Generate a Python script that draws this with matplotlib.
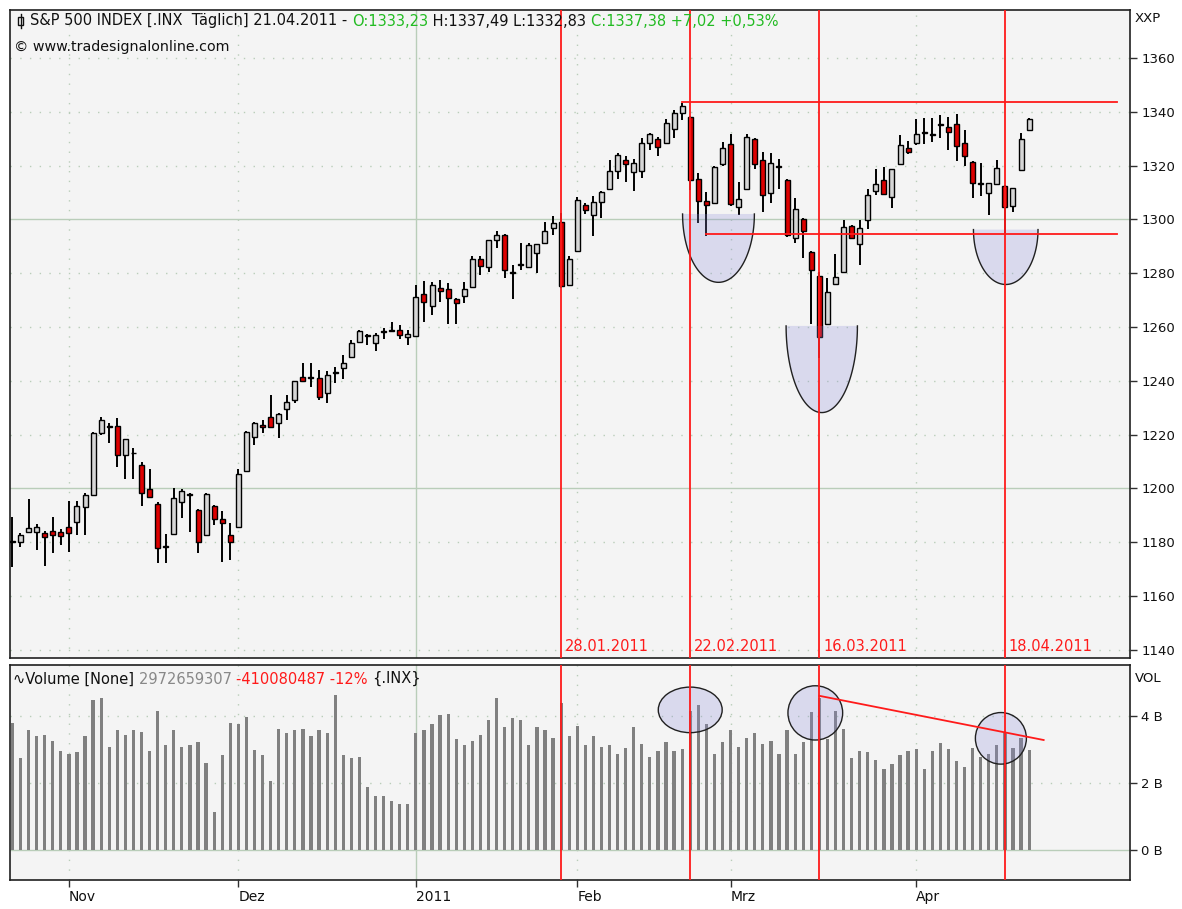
import numpy as np
import pandas as pd
import matplotlib
matplotlib.use("Agg")
import matplotlib.pyplot as plt
from matplotlib.patches import Ellipse, Polygon, Rectangle

plt.rcParams['font.family'] = ['DejaVu Sans']

# ---------------- data ----------------
holidays = ['2010-11-25', '2010-12-24', '2011-01-17', '2011-02-21']
dates = pd.bdate_range('2010-10-21', '2011-04-21', freq='C', holidays=holidays)

opens = [1180.0, 1180.1, 1184.0, 1184.0, 1183.6, 1184.3, 1183.7, 1185.5, 1187.4, 1193.0,
         1197.5, 1220.5, 1223.3, 1223.2, 1212.5, 1213.0, 1208.7, 1199.8, 1194.3, 1178.1,
         1183.0, 1195.1, 1197.9, 1192.0, 1182.7, 1193.5, 1188.8, 1182.6, 1185.8, 1206.5,
         1219.3, 1223.6, 1226.7, 1224.3, 1229.4, 1232.9, 1241.6, 1241.4, 1241.1, 1235.4,
         1243.2, 1244.7, 1248.8, 1254.3, 1256.9, 1254.0, 1258.4, 1258.6, 1258.9, 1256.2,
         1256.7, 1272.3, 1267.8, 1274.6, 1274.1, 1270.3, 1271.5, 1275.0, 1285.2, 1282.2,
         1292.4, 1294.2, 1280.3, 1283.3, 1282.2, 1287.4, 1291.4, 1296.9, 1299.2, 1275.6,
         1288.4, 1305.4, 1301.8, 1306.4, 1311.2, 1318.1, 1322.1, 1317.6, 1318.1, 1328.3,
         1329.8, 1328.5, 1333.6, 1339.7, 1338.2, 1314.9, 1307.0, 1306.2, 1320.6, 1328.0,
         1304.5, 1311.2, 1329.8, 1322.1, 1309.7, 1319.6, 1314.7, 1293.0, 1300.2, 1287.8,
         1279.0, 1261.1, 1276.0, 1280.6, 1297.6, 1290.9, 1299.6, 1310.6, 1314.8, 1308.3,
         1320.7, 1326.4, 1328.2, 1332.4, 1331.9, 1335.5, 1334.4, 1335.4, 1328.2, 1321.4,
         1313.2, 1309.8, 1313.3, 1312.4, 1304.8, 1318.5, 1333.23]
highs = [1189.3, 1183.4, 1196.1, 1186.8, 1184.2, 1189.5, 1184.9, 1195.5, 1195.5, 1198.2,
         1221.0, 1226.7, 1224.3, 1226.1, 1218.5, 1214.9, 1209.9, 1207.1, 1194.8, 1183.1,
         1200.1, 1199.7, 1198.5, 1192.3, 1198.2, 1194.0, 1191.7, 1187.1, 1207.1, 1221.5,
         1224.8, 1225.5, 1234.8, 1228.0, 1234.8, 1240.1, 1246.5, 1246.5, 1244.1, 1243.6,
         1245.1, 1249.6, 1255.0, 1258.9, 1257.5, 1257.7, 1259.5, 1262.0, 1260.7, 1258.9,
         1275.6, 1277.1, 1276.8, 1277.4, 1276.2, 1270.7, 1276.8, 1286.3, 1286.3, 1292.4,
         1295.5, 1294.4, 1283.0, 1291.1, 1291.4, 1290.9, 1299.2, 1301.3, 1302.3, 1286.2,
         1308.2, 1306.2, 1308.5, 1310.6, 1322.1, 1324.5, 1323.6, 1322.6, 1330.1, 1332.2,
         1330.7, 1337.2, 1340.7, 1343.2, 1338.5, 1317.1, 1310.3, 1319.9, 1328.9, 1331.7,
         1313.7, 1331.7, 1330.2, 1325.2, 1324.5, 1322.6, 1314.9, 1307.8, 1300.5, 1288.2,
         1280.5, 1278.1, 1287.0, 1299.8, 1298.0, 1299.6, 1311.1, 1318.9, 1319.3, 1318.6,
         1331.3, 1329.2, 1337.2, 1337.5, 1337.5, 1338.8, 1338.1, 1339.2, 1333.2, 1321.6,
         1321.0, 1313.5, 1322.2, 1312.6, 1311.8, 1332.2, 1337.49]
lows = [1170.7, 1178.4, 1184.0, 1177.2, 1171.2, 1176.2, 1179.0, 1176.5, 1182.7, 1182.7,
        1197.5, 1219.8, 1217.0, 1207.9, 1203.4, 1203.4, 1193.5, 1196.7, 1172.4, 1172.4,
        1183.0, 1189.2, 1184.0, 1176.2, 1182.7, 1186.4, 1172.8, 1173.4, 1185.8, 1206.5,
        1216.2, 1220.6, 1222.4, 1218.7, 1225.5, 1231.9, 1240.0, 1237.6, 1232.9, 1231.9,
        1239.3, 1240.6, 1248.8, 1254.3, 1253.3, 1250.9, 1255.4, 1258.4, 1255.4, 1253.2,
        1256.7, 1262.0, 1264.4, 1269.4, 1261.1, 1261.3, 1268.8, 1275.0, 1279.4, 1280.6,
        1289.3, 1278.1, 1270.4, 1281.2, 1282.0, 1280.0, 1291.4, 1294.3, 1274.4, 1275.6,
        1288.4, 1302.0, 1293.8, 1300.5, 1311.2, 1314.9, 1314.0, 1310.7, 1315.3, 1325.8,
        1323.6, 1328.5, 1330.1, 1337.0, 1310.9, 1298.8, 1293.8, 1306.2, 1319.8, 1305.0,
        1301.7, 1311.2, 1318.6, 1302.9, 1306.2, 1311.2, 1293.6, 1291.1, 1285.6, 1261.0,
        1248.4, 1261.1, 1275.5, 1280.6, 1292.6, 1283.2, 1296.5, 1308.9, 1309.6, 1304.4,
        1320.7, 1324.2, 1327.6, 1328.0, 1328.8, 1330.1, 1325.7, 1321.8, 1319.8, 1308.1,
        1308.6, 1301.5, 1313.3, 1294.7, 1302.7, 1318.5, 1332.83]
closes = [1180.0, 1182.6, 1185.3, 1185.8, 1181.9, 1182.8, 1182.3, 1183.6, 1193.3, 1197.6,
          1220.5, 1225.5, 1223.0, 1212.5, 1218.3, 1213.3, 1198.5, 1196.7, 1178.0, 1178.4,
          1196.6, 1199.2, 1197.7, 1180.0, 1197.8, 1188.6, 1187.3, 1180.1, 1205.3, 1221.1,
          1224.5, 1223.0, 1223.0, 1227.7, 1232.3, 1240.1, 1240.0, 1241.0, 1234.1, 1242.3,
          1243.0, 1246.8, 1254.0, 1258.5, 1256.6, 1257.1, 1258.2, 1258.8, 1257.1, 1257.4,
          1271.3, 1269.4, 1275.6, 1273.4, 1270.7, 1268.8, 1274.1, 1285.3, 1282.8, 1292.4,
          1294.2, 1281.2, 1280.0, 1283.0, 1290.4, 1290.9, 1295.8, 1298.6, 1275.3, 1285.3,
          1307.2, 1303.5, 1306.4, 1310.3, 1318.1, 1323.9, 1320.6, 1321.1, 1328.3, 1331.7,
          1327.0, 1335.7, 1339.7, 1342.2, 1314.7, 1307.0, 1305.4, 1319.4, 1326.4, 1305.7,
          1307.5, 1330.5, 1320.6, 1309.1, 1320.9, 1319.4, 1294.2, 1303.8, 1295.8, 1281.2,
          1256.2, 1272.9, 1278.5, 1297.3, 1293.0, 1296.9, 1309.2, 1313.1, 1309.6, 1318.6,
          1327.6, 1324.9, 1331.7, 1332.0, 1331.5, 1335.1, 1332.6, 1327.3, 1323.6, 1313.5,
          1313.5, 1313.5, 1319.2, 1304.6, 1311.8, 1329.7, 1337.38]
volumes_b = [3.80, 2.73, 3.57, 3.39, 3.44, 3.26, 2.95, 2.86, 2.91, 3.39,
             4.47, 4.52, 3.07, 3.57, 3.44, 3.57, 3.53, 2.95, 4.16, 3.12,
             3.57, 3.08, 3.12, 3.21, 2.59, 1.14, 2.82, 3.80, 3.75, 3.97,
             2.99, 2.82, 2.05, 3.62, 3.48, 3.57, 3.62, 3.39, 3.57, 3.48,
             4.61, 2.82, 2.73, 2.77, 1.87, 1.60, 1.60, 1.47, 1.38, 1.38,
             3.48, 3.57, 3.75, 4.02, 4.07, 3.30, 3.12, 3.26, 3.44, 3.89,
             4.52, 3.66, 3.93, 3.89, 3.12, 3.66, 3.57, 3.35, 4.38, 3.39,
             3.71, 3.12, 3.39, 3.08, 3.12, 2.85, 3.03, 3.66, 3.17, 2.77,
             2.95, 3.21, 2.95, 3.00, 4.16, 4.34, 3.75, 2.86, 3.21, 3.57,
             3.08, 3.35, 3.48, 3.17, 3.26, 2.85, 3.57, 2.85, 3.21, 4.11,
             4.52, 3.30, 4.16, 3.62, 2.73, 2.95, 2.91, 2.68, 2.42, 2.55,
             2.82, 2.95, 3.00, 2.42, 2.95, 3.18, 3.00, 2.64, 2.46, 3.03,
             2.77, 2.85, 3.12, 3.48, 3.03, 3.35, 2.97]

marker_dates = ['2011-01-28', '2011-02-22', '2011-03-16', '2011-04-18']
marker_labels = ['28.01.2011', '22.02.2011', '16.03.2011', '18.04.2011']
resistance_level = 1343.5
resistance_from = '2011-02-18'
neckline_level = 1294.5
neckline_from = '2011-02-24'
month_ticks = ['2010-11-01', '2010-12-01', '2011-01-03', '2011-02-01', '2011-03-01', '2011-04-01']
month_labels = ['Nov', 'Dez', '2011', 'Feb', 'Mrz', 'Apr']
price_ticks = [1140, 1160, 1180, 1200, 1220, 1240, 1260, 1280, 1300, 1320, 1340, 1360]
vol_ticks = [0, 2, 4]
vol_tick_labels = ['0 B', '2 B', '4 B']

# ---------------- setup ----------------
o = np.array(opens); h = np.array(highs); l = np.array(lows); c = np.array(closes)
v = np.array(volumes_b)
n = len(dates)
x = np.arange(n)
idx = {d.strftime('%Y-%m-%d'): i for i, d in enumerate(dates)}

BG = '#f4f4f4'
GRID = '#b9cdb9'
RED = '#ff1a1a'
FILL = (0.55, 0.55, 0.85, 0.25)

W, H = 1182, 909
fig = plt.figure(figsize=(W / 100, H / 100), dpi=100)
fig.patch.set_facecolor('white')
ax = fig.add_axes([10 / W, 251 / H, 1120 / W, 648 / H])
axv = fig.add_axes([10 / W, 29 / H, 1120 / W, 215 / H])

xlim = (-0.3, 138.5)
for a in (ax, axv):
    a.set_facecolor(BG)
    a.set_xlim(*xlim)
    for s in a.spines.values():
        s.set_color('#202020')
        s.set_linewidth(1.2)

ax.set_ylim(1137.0, 1377.8)
axv.set_ylim(-0.9, 5.52)

# grid
tick_idx = [idx[d] for d in month_ticks]
for a in (ax, axv):
    for ti, lab in zip(tick_idx, month_labels):
        if lab == '2011':
            a.axvline(ti, color=GRID, lw=1.0, zorder=1)
        else:
            a.axvline(ti, color=GRID, lw=1.0, ls=(0, (1, 6)), zorder=1)
for p in price_ticks:
    if p % 100 == 0:
        ax.axhline(p, color=GRID, lw=1.0, zorder=1)
    else:
        ax.axhline(p, color=GRID, lw=1.0, ls=(0, (1, 6)), zorder=1)
for vt in vol_ticks:
    if vt == 0:
        axv.axhline(vt, color=GRID, lw=1.0, zorder=1)
    else:
        axv.axhline(vt, color=GRID, lw=1.0, ls=(0, (1, 6)), zorder=1)

# ---------------- candles ----------------
up = c >= o
bottoms = np.minimum(o, c)
heights = np.maximum(np.abs(c - o), 0.35)
colors = np.where(up, '#d6d6d6', '#dd0000')
ax.vlines(x, l, h, color='black', lw=1.4, zorder=3)
ax.bar(x, heights, bottom=bottoms, width=0.62, color=colors, edgecolor='black',
       linewidth=1.0, zorder=4)

# ---------------- annotation shapes (main) ----------------
def half_ellipse(a, xc, hw, top, bottom):
    t = np.linspace(np.pi, 2 * np.pi, 80)
    xs = xc + hw * np.cos(t)
    ys = top + (top - bottom) * np.sin(t)
    a.add_patch(Polygon(np.column_stack([xs, ys]), closed=True, facecolor=FILL,
                        edgecolor='none', zorder=5))
    a.plot(xs, ys, color='#202020', lw=1.0, zorder=6)

half_ellipse(ax, 87.5, 4.45, 1302.0, 1276.6)
half_ellipse(ax, 100.3, 4.42, 1260.4, 1228.2)
half_ellipse(ax, 123.1, 4.0, 1296.2, 1275.8)

ax.plot([idx[resistance_from], xlim[1] - 1.6], [resistance_level] * 2, color=RED, lw=1.3, zorder=6)
ax.plot([idx[neckline_from], xlim[1] - 1.6], [neckline_level] * 2, color=RED, lw=1.3, zorder=6)

for d, lab in zip(marker_dates, marker_labels):
    i = idx[d]
    for a in (ax, axv):
        a.axvline(i, color=RED, lw=1.3, zorder=7)
    ax.text(i + 0.45, 1141.3, lab, color=RED, fontsize=10.5, ha='left', va='center', zorder=8)

# ---------------- volume ----------------
axv.bar(x, v, width=0.4, color='#808080', zorder=3)
for xc, yc, hw, hh in [(84.0, 4.18, 3.96, 0.68), (99.5, 4.09, 3.39, 0.81), (122.5, 3.33, 3.16, 0.77)]:
    axv.add_patch(Ellipse((xc, yc), 2 * hw, 2 * hh, facecolor=FILL, edgecolor='#202020',
                          lw=1.0, zorder=5))
axv.plot([100, 127.8], [4.60, 3.28], color=RED, lw=1.3, zorder=6)

# ---------------- axes ticks ----------------
ax.set_xticks([])
ax.yaxis.tick_right()
ax.set_yticks(price_ticks)
ax.set_yticklabels([str(p) for p in price_ticks])
ax.tick_params(axis='y', direction='out', length=5, width=1, color='#303030',
               labelsize=9.5, pad=3, labelcolor='#101010')

axv.yaxis.tick_right()
axv.set_yticks(vol_ticks)
axv.set_yticklabels(vol_tick_labels)
axv.tick_params(axis='y', direction='out', length=5, width=1, color='#303030',
                labelsize=9.5, pad=3, labelcolor='#101010')
axv.set_xticks(tick_idx)
axv.set_xticklabels(month_labels)
axv.tick_params(axis='x', direction='out', length=5, width=1, color='#303030',
                labelsize=10, pad=2, labelcolor='#101010')
for t in axv.get_xticklabels():
    t.set_horizontalalignment('left')

fig.text(1135 / W, 1 - 19 / H, 'XXP', fontsize=9.5, color='#101010', ha='left', va='center')
fig.text(1135 / W, 1 - 678 / H, 'VOL', fontsize=9.5, color='#101010', ha='left', va='center')

# ---------------- header texts ----------------
def rainbow(a, xs, ys, segs, fs):
    t = a.text(xs, ys, segs[0][0], color=segs[0][1], fontsize=fs, transform=a.transAxes,
               ha='left', va='center', zorder=10)
    for s, col in segs[1:]:
        t = a.annotate(s, xy=(1, 0), xycoords=t, va='bottom', ha='left', color=col,
                       fontsize=fs, zorder=10)
    return t

GREEN = '#22bb22'
rainbow(ax, 20 / 1120, 1 - 11 / 648, [
    ('S&P 500 INDEX [.INX  Täglich] 21.04.2011 - ', '#101010'),
    ('O:1333,23', GREEN),
    (' H:1337,49 L:1332,83 ', '#101010'),
    ('C:1337,38 +7,02 +0,53%', GREEN)], 10.5)
ax.text(4 / 1120, 1 - 37 / 648, '© www.tradesignalonline.com', fontsize=10.3, color='#101010',
        transform=ax.transAxes, ha='left', va='center', zorder=10)
# little candle icon
ax.add_patch(Rectangle((8 / 1120, 1 - 15 / 648), 5 / 1120, 8 / 648, transform=ax.transAxes,
                       facecolor='white', edgecolor='#101010', lw=1.0, zorder=10))
ax.plot([10.5 / 1120, 10.5 / 1120], [1 - 18 / 648, 1 - 4 / 648], transform=ax.transAxes,
        color='#101010', lw=1.0, zorder=10)

rainbow(axv, 3 / 1120, 1 - 14 / 215, [
    ('\u223fVolume [None] ', '#101010'),
    ('2972659307 ', '#888888'),
    ('-410080487 -12% ', RED),
    ('{.INX}', '#101010')], 10.5)

fig.savefig('out.png', dpi=100, facecolor='white')
